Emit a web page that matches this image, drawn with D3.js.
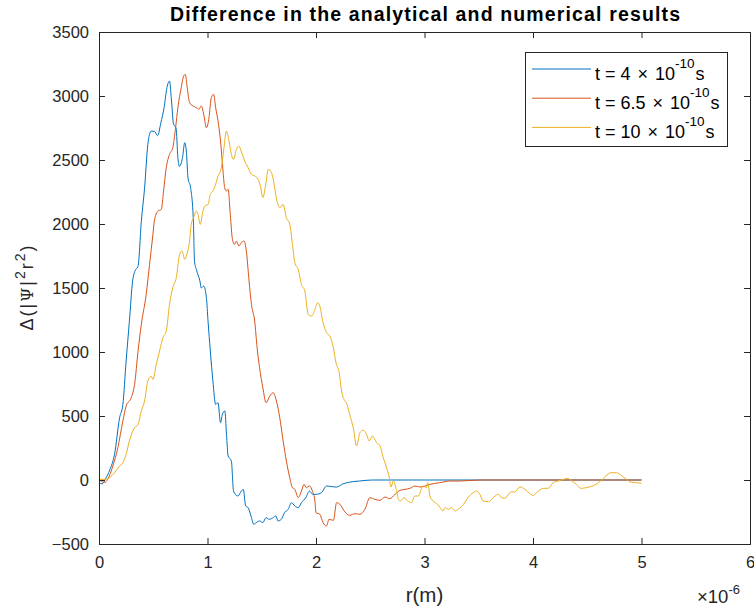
<!DOCTYPE html>
<html>
<head>
<meta charset="utf-8">
<script src="https://cdn.jsdelivr.net/npm/d3@7"></script>
<style>
  body { margin: 0; background: #fff; }
  svg { display: block; font-family: "Liberation Sans", Arial, sans-serif; }
</style>
</head>
<body>
<script>
// r in units of 1e-6 m, values = Delta(|psi|^2 r^2)
const rBlue = [0, 0.03, 0.06, 0.1, 0.143, 0.19, 0.22, 0.25, 0.28, 0.31, 0.33, 0.36, 0.39, 0.42, 0.45, 0.48,
  0.51, 0.54, 0.57, 0.6, 0.626, 0.65, 0.666, 0.687, 0.71, 0.727, 0.74, 0.77, 0.79, 0.805, 0.82, 0.845,
  0.87, 0.88, 0.897, 0.93, 0.943, 0.965, 0.99, 1.005, 1.026, 1.05, 1.075, 1.097, 1.12, 1.137, 1.16,
  1.175, 1.19, 1.22, 1.24, 1.28, 1.312, 1.33, 1.352, 1.374, 1.405, 1.426, 1.45, 1.48, 1.51, 1.54,
  1.57, 1.605, 1.63, 1.65, 1.68, 1.71, 1.743, 1.774, 1.805, 1.836, 1.866, 1.906, 1.94, 1.97, 2.0,
  2.05, 2.097, 2.13, 2.19, 2.25, 2.3, 2.4, 2.52, 3.0, 4.0, 5.0]
const vBlue = [-20, -30, 10, 80, 200, 487, 590, 930, 1240, 1555, 1630, 1670, 2020, 2280, 2620, 2725,
  2725, 2690, 2790, 2910, 3065, 3117, 2987, 2780, 2750, 2520, 2450, 2520, 2635, 2570, 2360, 2280,
  2020, 1710, 1645, 1555, 1500, 1515, 1425, 1240, 1008, 773, 590, 604, 448, 513, 540,
  357, 188, 148, -86, -125, -86, -73, -203, -216, -294, -346, -333, -320, -333, -294,
  -307, -294, -281, -320, -307, -255, -229, -177, -203, -216, -177, -138, -86, -112, -112,
  -99, -47, -50, -55, -30, -18, -8, 0, 0, 0, 0]

const rRed = [0, 0.05, 0.08, 0.128, 0.174, 0.22, 0.25, 0.297, 0.328, 0.36, 0.39, 0.435, 0.466, 0.497, 0.51,
  0.543, 0.574, 0.595, 0.62, 0.65, 0.68, 0.706, 0.727, 0.758, 0.78, 0.795, 0.813, 0.835, 0.866, 0.897,
  0.92, 0.943, 0.965, 0.99, 1.014, 1.035, 1.057, 1.075, 1.097, 1.12, 1.143, 1.158, 1.174, 1.19, 1.21,
  1.23, 1.25, 1.266, 1.29, 1.312, 1.337, 1.358, 1.383, 1.405, 1.435, 1.457, 1.48, 1.51, 1.54, 1.574,
  1.605, 1.635, 1.666, 1.697, 1.727, 1.758, 1.783, 1.805, 1.836, 1.866, 1.89, 1.91, 1.94, 1.967, 1.99,
  2.0, 2.035, 2.065, 2.097, 2.12, 2.16, 2.19, 2.22, 2.267, 2.31, 2.36, 2.405, 2.45, 2.497, 2.54, 2.59,
  2.636, 2.68, 2.728, 2.774, 2.82, 2.866, 2.912, 2.958, 3.005, 3.05, 3.14, 3.236, 3.33, 3.51, 4.0, 5.0]
const vRed = [5, -20, 5, 110, 253, 461, 578, 643, 747, 1008, 1216, 1450, 1685, 1919, 2023,
  2101, 2114, 2258, 2440, 2544, 2596, 2752, 2909, 3065, 3156, 3169, 3065, 2948, 2922, 2909,
  2896, 2922, 2857, 2752, 2831, 2987, 3013, 2909, 2805, 2648, 2414, 2284, 2258, 2271, 2075,
  1880, 1841, 1867, 1828, 1854, 1867, 1789, 1555, 1372, 1242, 1034, 877, 721, 604, 656,
  682, 617, 487, 305, 148, 18, -60, -73, -138, -86, -34, -60, -47, -86, -164,
  -255, -268, -333, -359, -307, -315, -177, -190, -250, -276, -263, -268, -229, -138, -151, -159,
  -133, -146, -112, -81, -73, -65, -47, -55, -47, -34, -21, -8, -8, 0, 0, 0]

const rYellow = [0, 0.06, 0.097, 0.143, 0.19, 0.22, 0.25, 0.28, 0.328, 0.36, 0.39, 0.42, 0.45, 0.48, 0.497,
  0.528, 0.558, 0.59, 0.62, 0.65, 0.68, 0.712, 0.743, 0.765, 0.79, 0.81, 0.835, 0.85, 0.872, 0.897,
  0.912, 0.934, 0.952, 0.974, 1.005, 1.026, 1.05, 1.075, 1.097, 1.12, 1.137, 1.152, 1.174, 1.198, 1.22,
  1.24, 1.266, 1.29, 1.31, 1.343, 1.374, 1.405, 1.435, 1.466, 1.488, 1.51, 1.537, 1.56, 1.59, 1.614,
  1.64, 1.666, 1.697, 1.727, 1.758, 1.783, 1.805, 1.836, 1.866, 1.897, 1.928, 1.96, 1.99, 2.014, 2.035,
  2.065, 2.097, 2.128, 2.16, 2.184, 2.214, 2.236, 2.267, 2.28, 2.31, 2.343, 2.374, 2.405, 2.436, 2.466,
  2.49, 2.52, 2.559, 2.59, 2.62, 2.65, 2.676, 2.69, 2.713, 2.74, 2.76, 2.78, 2.81, 2.845, 2.88,
  2.91, 2.943, 2.97, 2.99, 3.015, 3.03, 3.05, 3.08, 3.12, 3.143, 3.17, 3.19, 3.22, 3.25, 3.282,
  3.31, 3.36, 3.4, 3.45, 3.48, 3.51, 3.54, 3.59, 3.62, 3.65, 3.68, 3.71, 3.74, 3.77, 3.8,
  3.83, 3.88, 3.926, 3.97, 4.0, 4.05, 4.095, 4.14, 4.186, 4.23, 4.28, 4.32, 4.35, 4.4, 4.44,
  4.49, 4.54, 4.58, 4.63, 4.67, 4.72, 4.77, 4.81, 4.86, 4.9, 4.97, 5.0]
const vYellow = [5, 5, 18, 57, 110, 135, 200, 305, 409, 435, 539, 617, 773, 812, 786,
  903, 1008, 1112, 1164, 1372, 1502, 1580, 1763, 1789, 1724, 1763, 1867, 1997, 2049, 2101,
  2075, 1997, 2075, 2140, 2153, 2232, 2258, 2310, 2375, 2414, 2492, 2596, 2726, 2648, 2544,
  2505, 2583, 2609, 2570, 2492, 2440, 2388, 2375, 2349, 2297, 2206, 2310, 2427, 2401, 2310,
  2180, 2127, 2153, 2049, 1997, 1841, 1698, 1646, 1529, 1476, 1294, 1281, 1333, 1385, 1359,
  1229, 1151, 1125, 1034, 917, 838, 695, 617, 604, 513, 409, 266, 370, 388, 357,
  305, 344, 292, 266, 174, 96, 18, -55, -8, -73, -151, -164, -138, -164, -177,
  -125, -125, -73, -47, -60, -21, -125, -164, -190, -216, -242, -216, -229, -216, -242,
  -229, -190, -138, -99, -86, -112, -164, -169, -151, -125, -112, -138, -143, -117, -91,
  -94, -55, -73, -107, -120, -86, -65, -65, -21, -8, 5, 13, -3, -34, -65,
  -60, -49, -34, -3, 31, 57, 57, 39, 5, -16, -23, -25]

const legendLabels = ['4', '6.5', '10']
const colors = ['#0072BD', '#D95319', '#EDB120']
const xTicks = [0, 1, 2, 3, 4, 5, 6]
const yTicks = [-500, 0, 500, 1000, 1500, 2000, 2500, 3000, 3500]

const W = 754, H = 609
const margin = {top: 32, left: 99}
const width = 750 - margin.left
const height = 544 - margin.top
const axisColor = '#262626'

const svg = d3.select('body').append('svg').attr('width', W).attr('height', H)
const g = svg.append('g').attr('transform', 'translate(' + margin.left + ',' + margin.top + ')')

const x = d3.scaleLinear().domain([0, 6]).range([0, width])
const y = d3.scaleLinear().domain([-500, 3500]).range([height, 0])

// lines
const series = [[rBlue, vBlue], [rRed, vRed], [rYellow, vYellow]]
const line = d3.line().x(d => x(d[0])).y(d => y(d[1])).curve(d3.curveMonotoneX)
series.forEach(function (s, i) {
  const pts = s[0].map((r, j) => [r, s[1][j]])
  g.append('path')
    .attr('d', line(pts))
    .attr('fill', 'none')
    .attr('stroke', colors[i])
    .attr('stroke-width', 1)
})

// axes, ticks inside on all four sides
const tl = 6
const axB = g.append('g').attr('transform', 'translate(0,' + height + ')')
  .call(d3.axisBottom(x).tickValues(xTicks).tickSize(-tl).tickPadding(12).tickFormat(d3.format('d')))
const axT = g.append('g')
  .call(d3.axisTop(x).tickValues(xTicks).tickSize(-tl).tickFormat(''))
const axL = g.append('g')
  .call(d3.axisLeft(y).tickValues(yTicks).tickSize(-tl).tickPadding(10).tickFormat(d3.format('d')))
const axR = g.append('g').attr('transform', 'translate(' + width + ',0)')
  .call(d3.axisRight(y).tickValues(yTicks).tickSize(-tl).tickFormat(''))

;[axB, axT, axL, axR].forEach(function (a) {
  a.select('.domain').attr('stroke', axisColor).attr('stroke-width', 1)
  a.selectAll('.tick line').attr('stroke', axisColor)
  a.selectAll('.tick text').attr('fill', axisColor).style('font-size', '16.5px')
    .style('font-family', '"Liberation Sans", Arial, sans-serif')
})

// title
svg.append('text')
  .attr('x', 170).attr('y', 21)
  .attr('textLength', 510).attr('lengthAdjust', 'spacing')
  .attr('font-weight', 'bold').attr('font-size', 19.5).attr('fill', '#000')
  .text('Difference in the analytical and numerical results')

// x label
svg.append('text')
  .attr('x', margin.left + width / 2).attr('y', 602)
  .attr('text-anchor', 'middle').attr('font-size', 20.5).attr('fill', axisColor)
  .text('r(m)')

// exponent
const ex = svg.append('text').attr('x', 697).attr('y', 603).attr('font-size', 18.5).attr('fill', axisColor)
ex.append('tspan').text('\u00d710')
ex.append('tspan').attr('dy', -9).attr('font-size', 13).text('-6')

// y label
const yl = svg.append('text')
  .attr('transform', 'translate(33,' + 287 + ') rotate(-90)')
  .attr('text-anchor', 'middle').attr('font-size', 18).attr('fill', axisColor)
  .attr('letter-spacing', 2)
yl.append('tspan').text('\u0394(|')
yl.append('tspan').attr('font-family', '"DejaVu Serif", serif').attr('font-size', 16).text('\u03a8')
yl.append('tspan').text('|')
yl.append('tspan').attr('dy', -8).attr('font-size', 14).text('2')
yl.append('tspan').attr('dy', 8).text('r')
yl.append('tspan').attr('dy', -8).attr('font-size', 14).text('2')
yl.append('tspan').attr('dy', 8).text(')')

// legend
const lg = svg.append('g')
lg.append('rect').attr('x', 525.5).attr('y', 52.5).attr('width', 202).attr('height', 94)
  .attr('fill', '#fff').attr('stroke', axisColor).attr('stroke-width', 1)
legendLabels.forEach(function (lab, i) {
  const ly = 69 + i * 29.2
  lg.append('line').attr('x1', 532).attr('x2', 591).attr('y1', ly).attr('y2', ly)
    .attr('stroke', colors[i]).attr('stroke-width', 1)
  const t = lg.append('text').attr('x', 595).attr('y', ly + 11).attr('font-size', 18).attr('fill', '#000')
  t.append('tspan').text('t = ' + lab + ' ')
  t.append('tspan').attr('dx', 2).text('\u00d7')
  t.append('tspan').attr('dx', 2).text(' 10')
  t.append('tspan').attr('dy', -12).attr('font-size', 13.5).text('-10')
  t.append('tspan').attr('dy', 12).attr('dx', 1).text('s')
})
</script>
</body>
</html>
